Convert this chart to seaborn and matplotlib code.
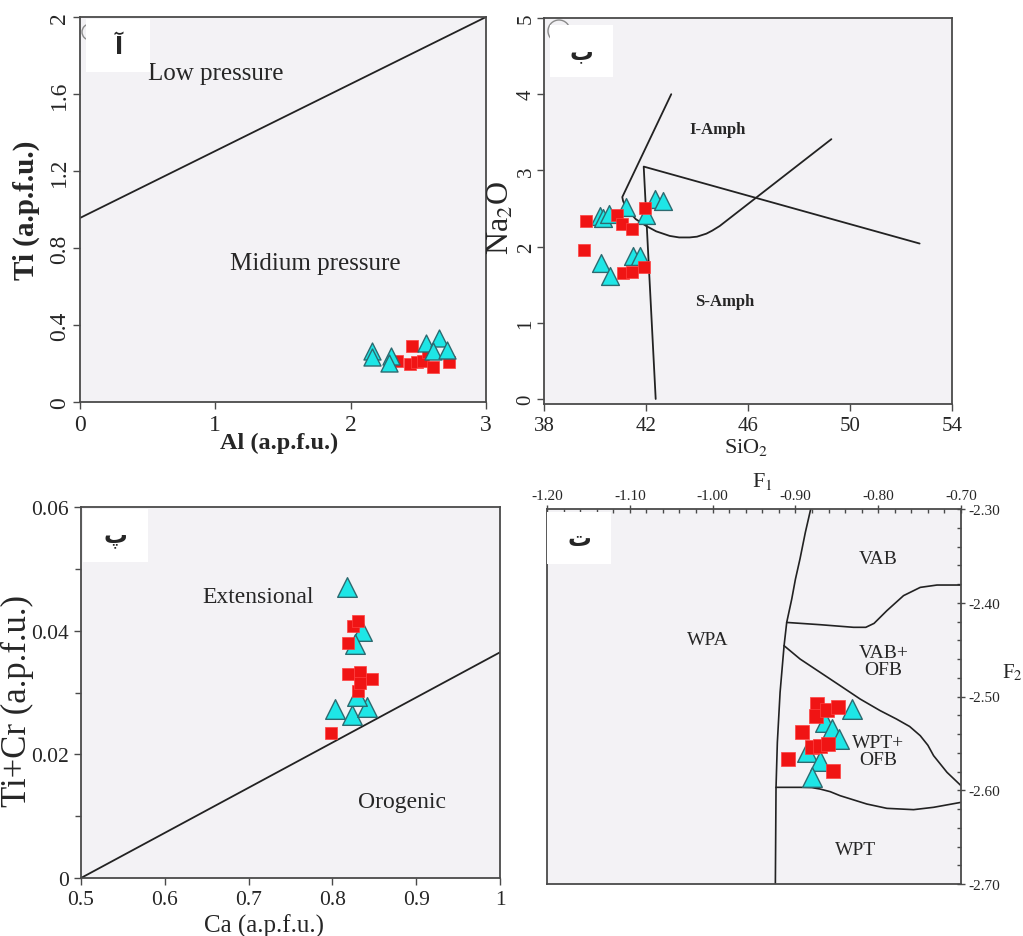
import numpy as np
import pandas as pd
import seaborn as sns
import matplotlib.pyplot as plt
from matplotlib.patches import Rectangle, Ellipse
from matplotlib.ticker import MultipleLocator

sns.set_theme(style="ticks")
plt.rcParams['font.family'] = ['Liberation Serif', 'DejaVu Sans']
plt.rcParams['mathtext.fontset'] = 'stix'
plt.rcParams['axes.unicode_minus'] = False

# ---- panel A : Ti vs Al ----
a_tri_al = [2.16, 2.16, 2.30, 2.28, 2.56, 2.65, 2.61, 2.71]
a_tri_ti = [0.266, 0.232, 0.240, 0.205, 0.305, 0.330, 0.265, 0.270]
a_sq_al = [2.45, 2.44, 2.49, 2.535, 2.61, 2.73, 2.34, 2.57]
a_sq_ti = [0.292, 0.197, 0.206, 0.215, 0.180, 0.207, 0.215, 0.260]
a_line_x = [0, 3]
a_line_y = [0.956, 2.0]
a_xticks = [0, 1, 2, 3]
a_xlabels = ['0', '1', '2', '3']
a_yticks = [0, 0.4, 0.8, 1.2, 1.6, 2.0]
a_ylabels = ['0', '0.4', '0.8', '1.2', '1.6', '2']

# ---- panel B : Na2O vs SiO2 ----
b_tri_si = [40.18, 40.31, 40.55, 41.23, 42.01, 42.37, 42.67, 40.25, 40.60, 41.49, 41.75]
b_tri_na = [2.40, 2.38, 2.43, 2.52, 2.41, 2.62, 2.60, 1.79, 1.62, 1.88, 1.88]
b_sq_si = [39.63, 39.55, 40.85, 41.07, 41.46, 41.95, 41.10, 41.46, 41.92]
b_sq_na = [2.34, 1.95, 2.41, 2.30, 2.23, 2.50, 1.65, 1.66, 1.73]
b_curve_x = [42.99, 41.07, 41.10, 41.20, 41.36, 41.60, 42.01, 42.40, 42.93, 43.30,
             43.71, 44.00, 44.37, 44.60, 44.89, 49.27]
b_curve_y = [4.00, 2.65, 2.60, 2.52, 2.45, 2.36, 2.27, 2.20, 2.14, 2.12,
             2.12, 2.13, 2.17, 2.21, 2.27, 3.41]
b_wedge_x = [42.38, 41.91, 52.73]
b_wedge_y = [0.0, 3.05, 2.04]
b_xticks = [38, 42, 46, 50, 54]
b_yticks = [0, 1, 2, 3, 4, 5]

# ---- panel C : Ti+Cr vs Ca ----
c_tri_ca = [0.817, 0.835, 0.827, 0.803, 0.823, 0.841, 0.829]
c_tri_v = [0.0470, 0.0400, 0.0378, 0.0273, 0.0263, 0.0276, 0.0295]
c_sq_ca = [0.819, 0.825, 0.830, 0.819, 0.833, 0.847, 0.831, 0.833, 0.798]
c_sq_v = [0.0380, 0.0408, 0.0416, 0.0330, 0.0333, 0.0322, 0.0303, 0.0316, 0.0235]
c_line_x = [0.5, 1.0]
c_line_y = [0.0, 0.0365]
c_xticks = [0.5, 0.6, 0.7, 0.8, 0.9, 1.0]
c_xlabels = ['0.5', '0.6', '0.7', '0.8', '0.9', '1']
c_yticks = [0, 0.02, 0.04, 0.06]
c_ylabels = ['0', '0.02', '0.04', '0.06']

# ---- panel D : F1 vs F2 ----
d_tri_f1 = [-0.8319, -0.8641, -0.8560, -0.8468, -0.8863, -0.8702, -0.8802]
d_tri_f2 = [-2.5133, -2.5276, -2.5347, -2.5453, -2.5596, -2.5684, -2.5862]
d_sq_f1 = [-0.8742, -0.8750, -0.8621, -0.8480, -0.8923, -0.8802, -0.8702, -0.8601, -0.9085, -0.8540]
d_sq_f2 = [-2.5080, -2.5204, -2.5140, -2.5116, -2.5382, -2.5542, -2.5524, -2.5507, -2.5667, -2.5791]
d_b1_x = [-0.8815, -0.8880, -0.8944, -0.9000, -0.9044, -0.9105, -0.9137, -0.9185, -0.9218, -0.9234, -0.9242]
d_b1_y = [-2.300, -2.325, -2.353, -2.375, -2.396, -2.421, -2.446, -2.4956, -2.549, -2.597, -2.700]
d_b2_x = [-0.9105, -0.8702, -0.8298, -0.8150, -0.8050, -0.7895, -0.7694, -0.7492, -0.7290, -0.700]
d_b2_y = [-2.421, -2.4234, -2.4262, -2.4262, -2.4220, -2.4084, -2.3924, -2.3836, -2.3811, -2.3811]
d_b3_x = [-0.9137, -0.8944, -0.8702, -0.8460, -0.8218, -0.7976, -0.7780, -0.7620, -0.7492, -0.7400, -0.7331, -0.7169, -0.700]
d_b3_y = [-2.4458, -2.4600, -2.4742, -2.4884, -2.5027, -2.5151, -2.5240, -2.5320, -2.5418, -2.5520, -2.5631, -2.5809, -2.5951]
d_b4_x = [-0.9234, -0.8944, -0.8800, -0.8702, -0.8580, -0.8460, -0.8137, -0.7895, -0.7573, -0.7331, -0.700]
d_b4_y = [-2.5969, -2.5969, -2.5972, -2.5987, -2.6015, -2.6058, -2.6147, -2.6193, -2.6207, -2.6182, -2.6129]
d_xticks = [-1.20, -1.10, -1.00, -0.90, -0.80, -0.70]
d_xlabels = ['-1.20', '-1.10', '-1.00', '-0.90', '-0.80', '-0.70']
d_yticks = [-2.70, -2.60, -2.50, -2.40, -2.30]
d_ylabels = ['-2.70', '-2.60', '-2.50', '-2.40', '-2.30']

TRI_FACE = '#1ee6e6'
TRI_EDGE = '#2d6a70'
SQ_FACE = '#f01414'
LINE = '#222222'
FACE = '#f3f2f5'

W, H = 1023, 937
fig = plt.figure(figsize=(W / 100, H / 100), dpi=100)


def px_axes(l, t, r, b):
    return fig.add_axes([l / W, 1 - b / H, (r - l) / W, (b - t) / H])


def style(ax):
    ax.set_facecolor(FACE)
    for s in ax.spines.values():
        s.set_visible(True)
        s.set_color('#4a4a4a')
        s.set_linewidth(1.3)
    ax.tick_params(direction='out', length=5, width=1, color='#4a4a4a')


def points(ax, tx, ty, sx, sy, ts, ss, squares_on_top=True):
    zt, zs = (3, 4) if squares_on_top else (4, 3)
    sns.scatterplot(x=tx, y=ty, marker='^', s=ts, color=TRI_FACE,
                    edgecolor=TRI_EDGE, linewidth=1.0, ax=ax, zorder=zt)
    sns.scatterplot(x=sx, y=sy, marker='s', s=ss, color=SQ_FACE,
                    edgecolor='#ff4040', linewidth=0.5, ax=ax, zorder=zs)


def letter_box(l, t, r, b, ch):
    fig.add_artist(Rectangle((l / W, 1 - b / H), (r - l) / W, (b - t) / H,
                             transform=fig.transFigure, facecolor='white',
                             edgecolor='none', zorder=5))
    fig.text((l + r) / 2 / W, 1 - (t + b) / 2 / H, ch, ha='center', va='center',
             fontsize=17, fontweight='bold', family=['DejaVu Sans'], zorder=6)


def corner_circle(cx, cy, r):
    fig.add_artist(Ellipse((cx / W, 1 - cy / H), 2 * r / W, 2 * r / H,
                           transform=fig.transFigure, facecolor='none',
                           edgecolor='#8a8a8a', lw=1.0, zorder=4))


# ---------- A ----------
axA = px_axes(80, 18, 486, 403)
style(axA)
axA.plot(a_line_x, a_line_y, color=LINE, lw=1.3)
points(axA, a_tri_al, a_tri_ti, a_sq_al, a_sq_ti, 150, 64, squares_on_top=False)
axA.set_xlim(0, 3)
axA.set_ylim(0, 2)
axA.set_xticks(a_xticks)
axA.set_xticklabels(a_xlabels, fontsize=17)
axA.set_yticks(a_yticks)
axA.set_yticklabels(a_ylabels, fontsize=17, rotation=90, va='center')
axA.tick_params(axis='y', pad=2)
axA.set_xlabel('Al (a.p.f.u.)', fontsize=17.5, fontweight='bold')
axA.set_ylabel('Ti (a.p.f.u.)', fontsize=21, fontweight='bold')
axA.xaxis.set_label_coords(0.49, -0.078)
axA.yaxis.set_label_coords(-0.098, 0.5)
axA.text(0.50, 1.71, 'Low pressure', fontsize=18, ha='left', va='center')
axA.text(1.11, 0.72, 'Midium pressure', fontsize=18, ha='left', va='center')
corner_circle(90, 33, 8)
letter_box(86, 20, 150, 73, 'آ')

# ---------- B ----------
axB = px_axes(544, 19, 952, 405)
style(axB)
axB.plot(b_curve_x, b_curve_y, color=LINE, lw=1.3)
axB.plot(b_wedge_x, b_wedge_y, color=LINE, lw=1.3)
points(axB, b_tri_si, b_tri_na, b_sq_si, b_sq_na, 165, 66)
axB.set_xlim(38, 54)
axB.set_ylim(-0.066, 5)
axB.set_xticks(b_xticks)
axB.set_xticklabels([str(v) for v in b_xticks], fontsize=15)
axB.set_yticks(b_yticks)
axB.set_yticklabels([str(v) for v in b_yticks], fontsize=15, rotation=90, va='center')
axB.tick_params(axis='y', pad=1)
axB.set_xlabel('SiO$_2$', fontsize=16)
axB.set_ylabel('Na$_2$O', fontsize=23)
axB.xaxis.set_label_coords(0.495, -0.082)
axB.yaxis.set_label_coords(-0.068, 0.484)
axB.text(44.8, 3.54, 'I-Amph', fontsize=12, fontweight='bold', ha='center', va='center')
axB.text(45.1, 1.29, 'S-Amph', fontsize=12, fontweight='bold', ha='center', va='center')
corner_circle(559, 32, 11)
letter_box(550, 26, 613, 78, 'ب')

# ---------- C ----------
axC = px_axes(81, 508, 500, 879)
style(axC)
axC.plot(c_line_x, c_line_y, color=LINE, lw=1.3)
points(axC, c_tri_ca, c_tri_v, c_sq_ca, c_sq_v, 200, 80)
axC.set_xlim(0.5, 1.0)
axC.set_ylim(0, 0.06)
axC.set_xticks(c_xticks)
axC.set_xticklabels(c_xlabels, fontsize=15.5)
axC.set_yticks(c_yticks)
axC.set_yticklabels(c_ylabels, fontsize=15.5)
axC.yaxis.set_minor_locator(MultipleLocator(0.01))
axC.tick_params(which='minor', direction='out', length=4, color='#4a4a4a')
axC.set_xlabel('Ca (a.p.f.u.)', fontsize=18)
axC.set_ylabel('Ti+Cr (a.p.f.u.)', fontsize=25)
axC.xaxis.set_label_coords(0.437, -0.095)
axC.yaxis.set_label_coords(-0.112, 0.48)
axC.text(0.711, 0.0455, 'Extensional', fontsize=17, ha='center', va='center')
axC.text(0.883, 0.0124, 'Orogenic', fontsize=17, ha='center', va='center')
letter_box(83, 510, 148, 563, 'پ')

# ---------- D ----------
axD = px_axes(547, 510, 961, 885)
style(axD)
for bx, by in [(d_b1_x, d_b1_y), (d_b2_x, d_b2_y), (d_b3_x, d_b3_y), (d_b4_x, d_b4_y)]:
    axD.plot(bx, by, color=LINE, lw=1.2)
points(axD, d_tri_f1, d_tri_f2, d_sq_f1, d_sq_f2, 200, 92)
axD.set_xlim(-1.20, -0.70)
axD.set_ylim(-2.70, -2.30)
axD.xaxis.tick_top()
axD.xaxis.set_label_position('top')
axD.yaxis.tick_right()
axD.set_xticks(d_xticks)
axD.set_xticklabels(d_xlabels, fontsize=11)
axD.set_yticks(d_yticks)
axD.set_yticklabels(d_ylabels, fontsize=11)
axD.xaxis.set_minor_locator(MultipleLocator(0.02))
axD.yaxis.set_minor_locator(MultipleLocator(0.02))
axD.tick_params(which='major', direction='inout', length=6, pad=2)
axD.tick_params(which='minor', direction='in', length=3, color='#4a4a4a')
axD.set_xlabel('F$_1$', fontsize=16)
axD.xaxis.set_label_coords(0.52, 1.062)
axD.text(1.099, 0.565, 'F$_2$', fontsize=15, transform=axD.transAxes,
         ha='left', va='center')
axD.text(-1.0052, -2.4387, 'WPA', fontsize=14, ha='center', va='center')
axD.text(-0.7996, -2.3533, 'VAB', fontsize=14, ha='center', va='center')
axD.text(-0.7935, -2.4618, 'VAB+\nOFB', fontsize=14, ha='center', va='center',
         linespacing=1.0)
axD.text(-0.7996, -2.5578, 'WPT+\nOFB', fontsize=14, ha='center', va='center',
         linespacing=1.0)
axD.text(-0.8278, -2.6627, 'WPT', fontsize=14, ha='center', va='center')
letter_box(547, 513, 611, 565, 'ت')

fig.savefig('out.png', dpi=100, facecolor='white')
